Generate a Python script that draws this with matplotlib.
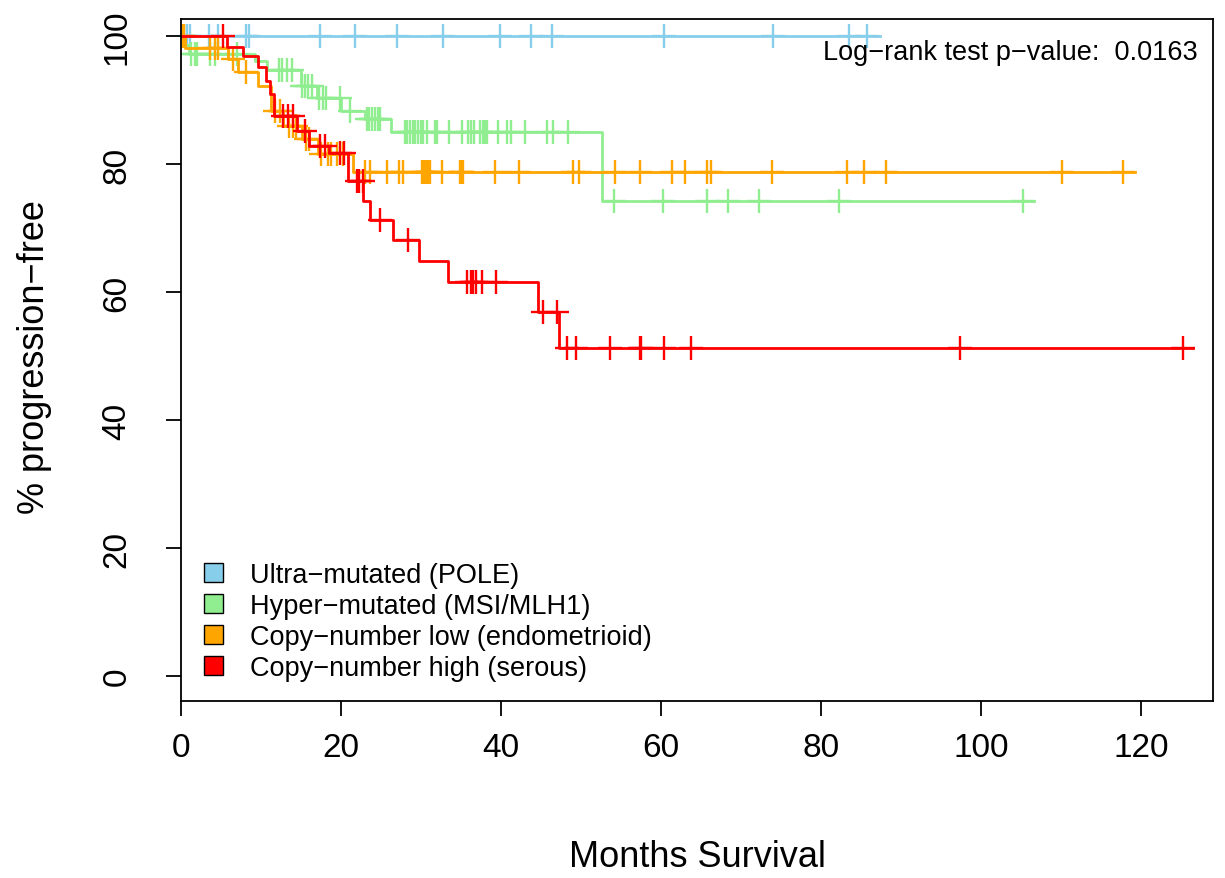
import numpy as np
import matplotlib
matplotlib.use("Agg")
import matplotlib.pyplot as plt
from matplotlib.patches import Patch

plt.rcParams['font.family'] = ['Liberation Sans', 'DejaVu Sans']

# group names and colours (R named colours)
GROUPS = ["Ultra\u2212mutated (POLE)", "Hyper\u2212mutated (MSI/MLH1)",
          "Copy\u2212number low (endometrioid)", "Copy\u2212number high (serous)"]
COLORS = ["skyblue", "lightgreen", "orange", "red"]

# step curves: drop times (months) and % progression-free after each drop
pole_times = [0]
pole_levels = [100]
pole_end = 87.4
pole_cens = [0.4, 0.8, 1.1, 3.5, 4.6, 8.1, 8.5, 17.4, 21.8, 27.0, 32.8, 39.9,
             43.7, 46.4, 60.4, 74.0, 83.5, 85.75]

msi_times = [0, 0.5, 1.0, 9.2, 10.7, 15.0, 17.0, 20.0, 23.0, 26.3, 52.6]
msi_levels = [100, 98.6, 97.2, 96.1, 94.8, 92.3, 90.4, 88.3, 87.0, 85.0, 74.3]
msi_end = 106.6
msi_cens = [1.3, 1.7, 2.0, 3.6, 4.3, 7.0, 12.2, 12.6, 13.2, 13.9, 15.1, 15.5,
            15.9, 16.4, 17.2, 17.7, 18.1, 19.9, 21.1, 23.2, 23.5, 23.9, 24.2,
            24.6, 24.9, 28.0, 28.3, 28.6, 29.0, 29.3, 29.6, 30.0, 30.3, 30.7,
            31.75, 32.0, 33.5, 35.1, 35.9, 36.2, 36.6, 37.4, 37.7, 38.0, 38.3,
            39.6, 40.7, 41.25, 43.0, 45.8, 46.5, 48.4, 54.1, 60.3, 65.7, 68.4,
            72.2, 82.3, 105.2]

cnl_times = [0, 0.5, 5.9, 7.1, 9.6, 11.3, 12.8, 15.1, 17.1, 21.5]
cnl_levels = [100, 98.2, 96.4, 94.4, 92.2, 88.3, 86.0, 83.9, 81.6, 78.8]
cnl_end = 119.25
cnl_cens = [0.2, 0.35, 3.6, 4.2, 4.6, 6.5, 8.1, 11.8, 12.4, 13.5, 14.0, 14.4,
            15.6, 16.0, 17.5, 18.4, 18.7, 19.5, 20.3, 23.0, 23.6, 25.7, 27.2,
            27.8, 30.1, 30.3, 30.5, 30.7, 30.9, 31.1, 32.6, 34.9, 35.1, 35.3,
            39.25, 42.2, 49.0, 49.7, 54.3, 57.35, 61.4, 63.0, 65.7, 66.3, 73.9,
            83.3, 85.4, 88.1, 110.1, 117.7]

cnh_times = [0, 5.8, 7.8, 9.6, 10.6, 11.1, 11.6, 14.5, 16.0, 18.5, 20.9, 22.8,
             23.6, 26.5, 29.7, 33.4, 44.6, 47.3]
cnh_levels = [100, 98.3, 96.9, 95.2, 93.0, 91.0, 87.5, 85.2, 82.9, 81.8, 77.4,
              74.3, 71.3, 68.2, 64.9, 61.6, 56.9, 51.2]
cnh_end = 126.5
cnh_cens = [5.2, 12.8, 13.4, 14.0, 15.5, 17.4, 18.0, 19.9, 20.4, 21.96, 22.3,
            22.7, 24.9, 28.4, 35.8, 36.2, 36.5, 36.9, 37.6, 39.4, 45.3, 47.0,
            48.2, 49.35, 53.65, 57.4, 57.55, 60.4, 63.7, 97.4, 125.2]

curves = [
    (pole_times, pole_levels, pole_end, pole_cens),
    (msi_times, msi_levels, msi_end, msi_cens),
    (cnl_times, cnl_levels, cnl_end, cnl_cens),
    (cnh_times, cnh_levels, cnh_end, cnh_cens),
]

fig = plt.figure(figsize=(12.25, 8.79), dpi=100)
ax = fig.add_axes([181 / 1225, 1 - 702 / 879, 1032 / 1225, 682 / 879])

for (times, levels, end, cens), col in zip(curves, COLORS):
    t = np.array(times + [end], dtype=float)
    s = np.array(levels + [levels[-1]], dtype=float)
    ax.step(t, s, where='post', color=col, lw=2.0, zorder=2)
    idx = np.searchsorted(times, cens, side='right') - 1
    ax.plot(cens, np.array(levels)[idx], ls='none', marker='+', ms=17,
            mew=1.7, color=col, zorder=2)

ax.set_xlim(0, 129)
ax.set_ylim(-3.9, 102.7)
ax.set_xticks(np.arange(0, 121, 20))
ax.set_yticks(np.arange(0, 101, 20))
for sp in ax.spines.values():
    sp.set_linewidth(1.3)
ax.tick_params(axis='both', direction='out', length=11, width=1.3,
               labelsize=24)
ax.tick_params(axis='x', pad=11)
ax.tick_params(axis='y', pad=24)
for lab in ax.get_yticklabels():
    lab.set_rotation(90)
    lab.set_va('center')

ax.set_xlabel("Months Survival", fontsize=26)
ax.xaxis.set_label_coords(0.5, -0.2273)
ax.xaxis.label.set_va('center')
ax.set_ylabel("% progression\u2212free", fontsize=26)
ax.yaxis.set_label_coords(-0.1415, 0.506)
ax.yaxis.label.set_va('center')

ax.text(0.9855, 0.9516, "Log\u2212rank test p\u2212value:  0.0163",
        transform=ax.transAxes, ha='right', va='center', fontsize=19.5)

handles = [Patch(facecolor=c, edgecolor='black', lw=1.0) for c in COLORS]
ax.legend(handles, GROUPS, loc='lower left', frameon=False, fontsize=19.5,
          bbox_to_anchor=(0.022, 0.03), borderaxespad=0, borderpad=0,
          handlelength=0.7, handleheight=0.7, handletextpad=1.0,
          labelspacing=0.18)

fig.savefig("out.png", dpi=100)
